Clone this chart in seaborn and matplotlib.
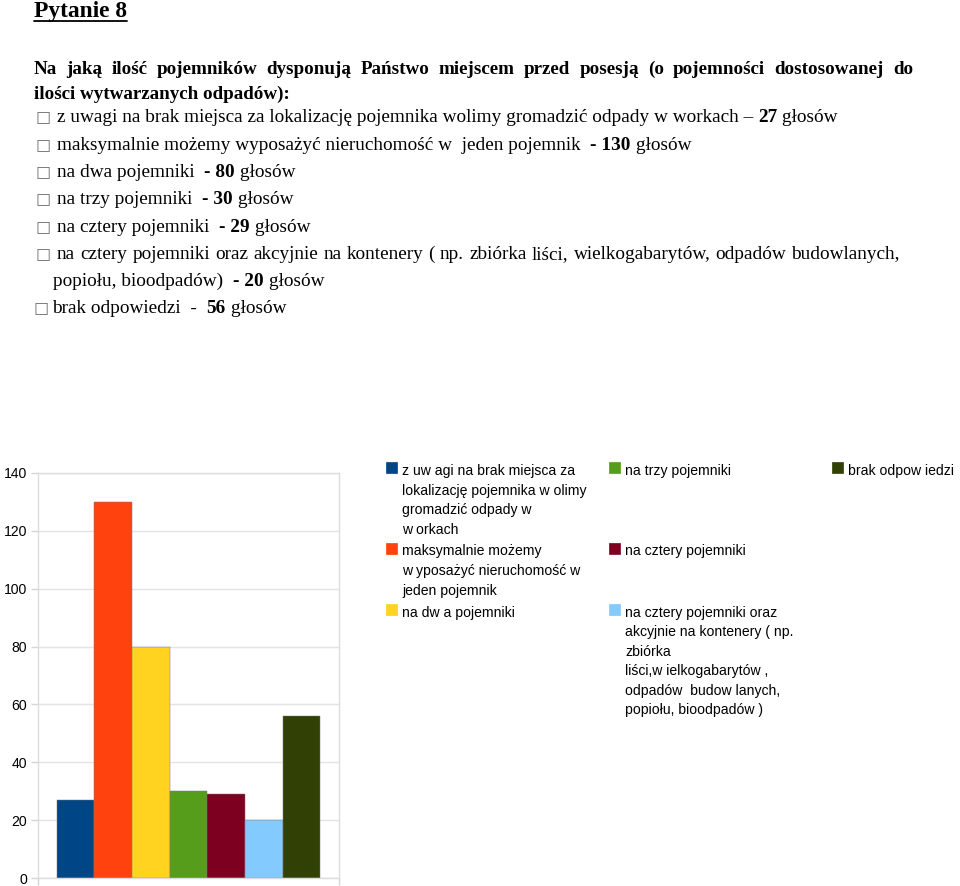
import matplotlib
matplotlib.use("Agg")
import matplotlib.pyplot as plt
import seaborn as sns
import pandas as pd
from matplotlib.transforms import IdentityTransform
from matplotlib.patches import Rectangle
from matplotlib.lines import Line2D

# ---------------- data ----------------
categories = [
    "z uwagi na brak miejsca za lokalizację pojemnika wolimy gromadzić odpady w workach",
    "maksymalnie możemy wyposażyć nieruchomość w jeden pojemnik",
    "na dwa pojemniki",
    "na trzy pojemniki",
    "na cztery pojemniki",
    "na cztery pojemniki oraz akcyjnie na kontenery (np. zbiórka liści, wielkogabarytów, odpadów budowlanych, popiołu, bioodpadów)",
    "brak odpowiedzi",
]
values = [27, 130, 80, 30, 29, 20, 56]
colors = ["#004586", "#ff420e", "#ffd320", "#579d1c", "#7e0021", "#83caff", "#314004"]
y_ticks = [0, 20, 40, 60, 80, 100, 120, 140]

legend_lines = [
    ["z uw agi na brak miejsca za", "lokalizację pojemnika w olimy", "gromadzić odpady w", "w orkach"],
    ["maksymalnie możemy", "w yposażyć nieruchomość w", "jeden pojemnik"],
    ["na dw a pojemniki"],
    ["na trzy pojemniki"],
    ["na cztery pojemniki"],
    ["na cztery pojemniki oraz", "akcyjnie na kontenery ( np.", "zbiórka", "liści,w ielkogabarytów ,",
     "odpadów  budow lanych,", "popiołu, bioodpadów )"],
    ["brak odpow iedzi"],
]

title = "Pytanie 8"
question = ["Na jaką ilość pojemników dysponują Państwo miejscem przed posesją (o pojemności dostosowanej do",
            "ilości wytwarzanych odpadów):"]

# ---------------- figure ----------------
W, H, DPI = 960, 886, 100
sns.set_theme(style="white")
plt.rcParams['font.family'] = ['Liberation Sans', 'DejaVu Sans']

fig = plt.figure(figsize=(W / DPI, H / DPI), dpi=DPI)
fig.patch.set_facecolor("white")
PX = 72.0 / DPI  # points per pixel

# ---------------- chart ----------------
ax_l, ax_r, ax_t, ax_b = 38, 339, 473, 878
ax = fig.add_axes([ax_l / W, (H - ax_b) / H, (ax_r - ax_l) / W, (ax_b - ax_t) / H])
df = pd.DataFrame({"grupa": [""] * len(values), "odpowiedz": categories, "glosy": values})
sns.barplot(data=df, x="grupa", y="glosy", hue="odpowiedz", hue_order=categories,
            palette=colors, width=0.877, saturation=1, legend=False, ax=ax,
            edgecolor="#7a7a7a", linewidth=0.35)
ax.set_xlim(-0.5, 0.5)
ax.set_ylim(0, 140)
ax.set_yticks(y_ticks)
ax.set_yticklabels([str(v) for v in y_ticks])
ax.set_xticks([-0.5, 0.5])
ax.set_xticklabels(["", ""])
ax.set_xlabel("")
ax.set_ylabel("")
ax.yaxis.grid(True, color="#e4e4e4", linewidth=1.0)
ax.set_axisbelow(True)
for s in ax.spines.values():
    s.set_color("#dcdcdc")
    s.set_linewidth(1.0)
ax.tick_params(axis="y", which="major", left=True, length=7 * PX, width=1.0, color="#d6d6d6",
               pad=4 * PX, labelsize=14 * PX, labelcolor="black")
ax.tick_params(axis="x", which="major", bottom=True, length=7 * PX, width=1.0, color="#d6d6d6")
for lab in ax.get_yticklabels():
    lab.set_family('Liberation Sans')

# ---------------- legend (drawn as grid) ----------------
leg_cols_x = [386, 609, 832]
leg_text_dx = 16
leg_first_center = 470
line_h = 19.5
item_gap = 2.5
leg_font = 14 * PX
col_of = [0, 0, 0, 1, 1, 1, 2]
row_of = [0, 1, 2, 0, 1, 2, 0]
row_start = [leg_first_center]
row_start.append(row_start[0] + len(legend_lines[0]) * line_h + item_gap)
row_start.append(row_start[1] + len(legend_lines[1]) * line_h + item_gap)
for i, lines in enumerate(legend_lines):
    x0 = leg_cols_x[col_of[i]]
    c0 = row_start[row_of[i]]
    fig.add_artist(Rectangle((x0, H - (c0 - 8) - 11), 11, 11, transform=IdentityTransform(),
                             facecolor=colors[i], edgecolor=colors[i], linewidth=0.5))
    for k, ln in enumerate(lines):
        fig.text(x0 + leg_text_dx, H - (c0 + k * line_h + 5), ln, transform=IdentityTransform(),
                 fontsize=leg_font, color="black", va="baseline", ha="left",
                 family='Liberation Sans')

# ---------------- document text ----------------
renderer = fig.canvas.get_renderer()
SERIF = 'Liberation Serif'
BODY = 19.25 * PX
QFONT = 19 * PX


def text_width(s, size, weight):
    t = fig.text(0, 0, "x" + s + "x", fontsize=size, fontweight=weight, family=SERIF,
                 transform=IdentityTransform())
    w1 = t.get_window_extent(renderer).width
    t.set_text("xx")
    w2 = t.get_window_extent(renderer).width
    t.remove()
    return w1 - w2


def draw_runs(x, y_base, runs, size=BODY):
    for s, bold in runs:
        wt = "bold" if bold else "normal"
        fig.text(x, H - y_base, s, fontsize=size, fontweight=wt, family=SERIF,
                 transform=IdentityTransform(), va="baseline", ha="left", color="black")
        x += text_width(s, size, wt)
    return x


def draw_justified(x0, x1, y_base, line, bold, size=BODY):
    wt = "bold" if bold else "normal"
    words = line.split()
    widths = [text_width(w, size, wt) for w in words]
    gap = (x1 - x0 - sum(widths)) / (len(words) - 1)
    x = x0
    for w, ww in zip(words, widths):
        fig.text(x, H - y_base, w, fontsize=size, fontweight=wt, family=SERIF,
                 transform=IdentityTransform(), va="baseline", ha="left", color="black")
        x += ww + gap


def bullet(x, y_base):
    fig.text(x, H - y_base + 0.5, "\u25a1", fontsize=16 * PX, color="#707070",
             family=['DejaVu Sans'], transform=IdentityTransform(), va="baseline", ha="left")


# title
tx_end = draw_runs(34, 17, [(title, True)], size=23.5 * PX)
fig.add_artist(Line2D([34, tx_end], [H - 21, H - 21], transform=IdentityTransform(),
                      color="black", linewidth=1.3))

# question
draw_justified(34, 913, 74, question[0], True, size=QFONT)
draw_runs(34, 99, [(question[1], True)], size=QFONT)

# bullets
bl = [122, 149.5, 177, 204, 231.5, 259, 286, 313]
items = [
    [("z uwagi na brak miejsca za lokalizację pojemnika wolimy gromadzić odpady w workach \u2013 ", False),
     (f"{values[0]}", True), (" głosów", False)],
    [("maksymalnie możemy wyposażyć nieruchomość w  jeden pojemnik  ", False),
     (f"- {values[1]}", True), (" głosów", False)],
    [("na dwa pojemniki  ", False), (f"- {values[2]}", True), (" głosów", False)],
    [("na trzy pojemniki  ", False), (f"- {values[3]}", True), (" głosów", False)],
    [("na cztery pojemniki  ", False), (f"- {values[4]}", True), (" głosów", False)],
]
for k, runs in enumerate(items):
    bullet(36, bl[k])
    draw_runs(57, bl[k], runs)

bullet(36, bl[5])
draw_justified(57, 900, bl[5],
               "na cztery pojemniki oraz akcyjnie na kontenery ( np. zbiórka liści, wielkogabarytów, odpadów budowlanych,",
               False)
draw_runs(53, bl[6], [("popiołu, bioodpadów)  ", False), (f"- {values[5]}", True), (" głosów", False)])
bullet(34, bl[7])
draw_runs(52, bl[7], [("brak odpowiedzi  -  ", False), (f"{values[6]}", True), (" głosów", False)])

fig.savefig("out.png", dpi=DPI, facecolor="white")
